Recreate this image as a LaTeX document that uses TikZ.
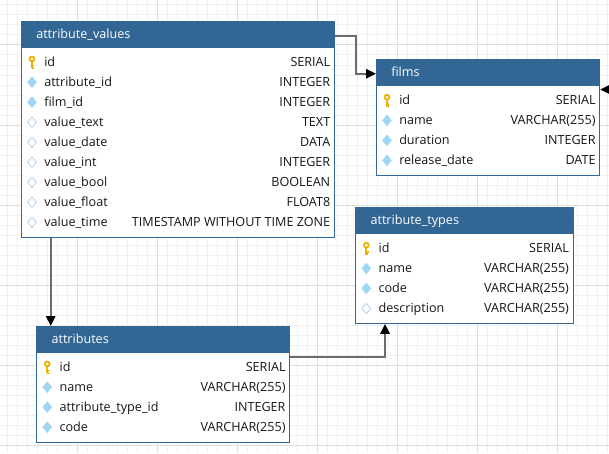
\documentclass[tikz,border=0pt]{standalone}
\usepackage{fontspec}
\setmainfont{Open Sans}
\usetikzlibrary{arrows.meta}
\def\PX{*0.75pt}
\definecolor{hdrblue}{RGB}{50,102,148}
\definecolor{gridminor}{RGB}{240,240,240}
\definecolor{gridmajor}{RGB}{222,222,222}
\definecolor{keygold}{RGB}{238,178,0}
\definecolor{fkblue}{RGB}{158,214,245}
\definecolor{optblue}{RGB}{190,214,236}
\definecolor{txt}{RGB}{22,22,22}
\definecolor{connc}{RGB}{108,108,108}
\tikzset{
  x=0.75pt, y=-0.75pt,
  tfont/.style={font=\fontsize{9.45pt}{11pt}\selectfont},
  hdr/.style={draw=hdrblue, fill=hdrblue, minimum height=24.6\PX, inner sep=0pt, line width=0.75pt, anchor=north west},
  body/.style={draw=hdrblue, fill=white, inner sep=0pt, line width=0.75pt, anchor=north west},
  hdrtext/.style={tfont, text=white, inner sep=0pt, anchor=base west},
  coltext/.style={tfont, text=txt, inner sep=0pt, anchor=base west},
  typetext/.style={tfont, text=txt, inner sep=0pt, anchor=base east},
  gminor/.style={draw=gridminor, line width=0.75pt},
  gmajor/.style={draw=gridmajor, line width=0.75pt},
  conn/.style={draw=connc, line width=1.5pt, -{Triangle[length=7.5pt,width=7pt,color=black]}},
  keyicon/.pic={
    \draw[keygold, line width=1.35pt] (0,-3.2) circle[radius=2.4];
    \draw[keygold, line width=1.5pt] (0,-0.8) -- (0,6.2);
    \draw[keygold, line width=1.2pt] (0,3.4) -- (2.2,3.4) (0,5.6) -- (1.8,5.6);
  },
  fkicon/.pic={
    \fill[fkblue] (0,-5.8) -- (4.8,0) -- (0,5.8) -- (-4.8,0) -- cycle;
  },
  opticon/.pic={
    \draw[optblue, fill=white, line width=0.7pt] (0,-5.2) -- (4.3,0) -- (0,5.2) -- (-4.3,0) -- cycle;
  }
}
% #1 name, #2 title, #3 x, #4 y, #5 width, #6 rows, #7 number of rows
\newcommand{\erdtable}[7]{%
  \node[hdr, minimum width=#5\PX] (#1-h) at (#3,#4) {};
  \node[body, minimum width=#5\PX, minimum height=(20*#7+10)\PX] (#1-b) at (#1-h.south west) {};
  \node[hdrtext] (#1-t) at ([shift={(15,4.3)}]#1-h.west) {#2};
  \foreach \ic/\nm/\ty [count=\i] in {#6} {
    \pic (#1-i\i) at ([shift={(11,20*\i-4.5)}]#1-b.north west) {\ic};
    \node[coltext] (#1-n\i) at ([shift={(23,20*\i)}]#1-b.north west) {\nm};
    \node[typetext] (#1-y\i) at ([shift={(-4.5,20*\i)}]#1-b.north east) {\ty};
  }
}
\begin{document}
\begin{tikzpicture}
\useasboundingbox (0,0) rectangle (609,453);
\fill[white] (0,0) rectangle (609,453);
\foreach \x in {7,17,...,607} \draw[gminor] (\x,0) -- (\x,453);
\foreach \y in {5,15,...,445} \draw[gminor] (0,\y) -- (609,\y);
\foreach \x in {77,157,...,557} \draw[gmajor] (\x,0) -- (\x,453);
\foreach \y in {45,125,...,445} \draw[gmajor] (0,\y) -- (609,\y);

\erdtable{av}{attribute\_values}{21}{21}{313}{keyicon/id/SERIAL, fkicon/attribute\_id/INTEGER, fkicon/film\_id/INTEGER, opticon/value\_text/TEXT, opticon/value\_date/DATA, opticon/value\_int/INTEGER, opticon/value\_bool/BOOLEAN, opticon/value\_float/FLOAT8, opticon/value\_time/TIMESTAMP WITHOUT TIME ZONE}{9}
\erdtable{fi}{films}{376}{59.3}{223.3}{keyicon/id/SERIAL, fkicon/name/VARCHAR(255), fkicon/duration/INTEGER, fkicon/release\_date/DATE}{4}
\erdtable{at}{attribute\_types}{355.3}{207.3}{217.4}{keyicon/id/SERIAL, fkicon/name/VARCHAR(255), fkicon/code/VARCHAR(255), opticon/description/VARCHAR(255)}{4}
\erdtable{a}{attributes}{36.3}{326}{253}{keyicon/id/SERIAL, fkicon/name/VARCHAR(255), fkicon/attribute\_type\_id/INTEGER, fkicon/code/VARCHAR(255)}{4}

\draw[conn] ([yshift=-2.4\PX]av-h.east) -- ++(21,0) |- ([yshift=-1.65\PX]fi-h.west);
\coordinate (c1) at ([xshift=14.4\PX]a-h.north west);
\draw[conn] (av-b.south -| c1) -- (c1);
\coordinate (c2) at ([xshift=29.7\PX]at-b.south west);
\draw[conn] ([yshift=-5.3\PX]a-b.north east) -| (c2);
\coordinate (c3) at (609,89.5);
\draw[conn] (c3) -- (fi-b.east |- c3);
\end{tikzpicture}
\end{document}
